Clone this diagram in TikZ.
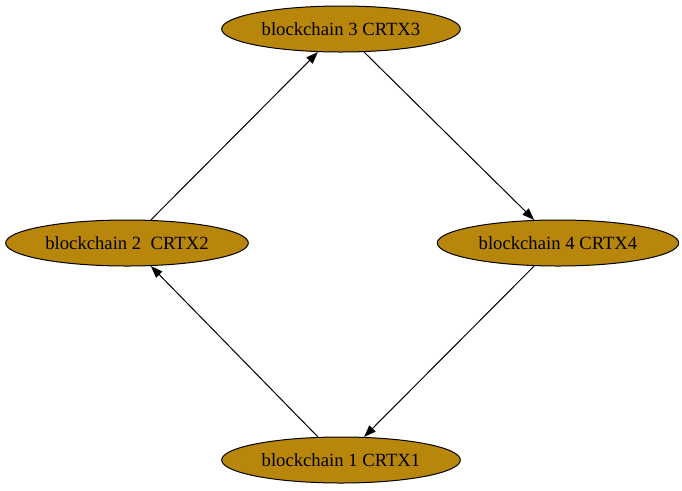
\documentclass[tikz,border=0pt]{standalone}
\usepackage{fontspec}
\setmainfont{Liberation Serif}
\usetikzlibrary{shapes.geometric,arrows.meta}
\definecolor{chaingold}{HTML}{B8860B}

\begin{document}
\begin{tikzpicture}[x=0.75pt,y=-0.75pt,
        chain/.style={ellipse,draw,line width=0.75pt,fill=chaingold,inner sep=0pt,
            minimum height=34.5pt,font=\fontsize{14}{16}\selectfont},
        link/.style={-{Triangle[length=9pt,width=6.5pt]},line width=0.75pt}]
        \useasboundingbox (0,0) rectangle (682,490);

        \node[chain,minimum width=179pt](crtx3) at (341,29) {blockchain 3 CRTX3};
        \node[chain,minimum width=182pt](crtx2) at (127,243) {blockchain 2~ CRTX2};
        \node[chain,minimum width=181pt](crtx4) at (558,243) {blockchain 4 CRTX4};
        \node[chain,minimum width=179pt](crtx1) at (341,460) {blockchain 1 CRTX1};

        \draw[link](crtx1.135)--(crtx2.-44);
        \draw[link](crtx2.44)--(crtx3.-135);
        \draw[link](crtx3.-45)--(crtx4.136);
        \draw[link](crtx4.-136)--(crtx1.45);
    \end{tikzpicture}
\end{document}
